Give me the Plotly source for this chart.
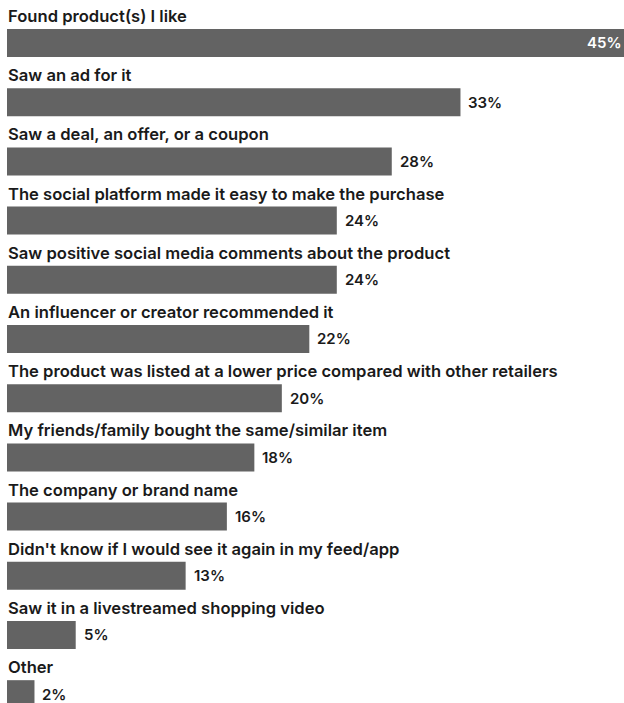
import plotly.graph_objects as go

categories = [
    "Found product(s) I like",
    "Saw an ad for it",
    "Saw a deal, an offer, or a coupon",
    "The social platform made it easy to make the purchase",
    "Saw positive social media comments about the product",
    "An influencer or creator recommended it",
    "The product was listed at a lower price compared with other retailers",
    "My friends/family bought the same/similar item",
    "The company or brand name",
    "Didn't know if I would see it again in my feed/app",
    "Saw it in a livestreamed shopping video",
    "Other",
]
values = [45, 33, 28, 24, 24, 22, 20, 18, 16, 13, 5, 2]
value_labels = [f"{v}%" for v in values]

idx = list(range(len(categories)))
BAR_COLOR = "#636363"
TEXT_COLOR = "#1a1a1a"
FONT = "Inter"

fig = go.Figure()
fig.add_trace(go.Bar(
    x=values, y=idx, orientation="h",
    marker=dict(color=BAR_COLOR, line=dict(width=0)),
    width=0.473, hoverinfo="skip",
))

annotations = []
for i, (c, v, t) in enumerate(zip(categories, values, value_labels)):
    annotations.append(dict(
        x=0, y=i, xref="x", yref="y", text=c, showarrow=False,
        xanchor="left", yanchor="middle", yshift=27, xshift=-1,
        font=dict(family=FONT, size=16.6, color=TEXT_COLOR, weight=600),
    ))
    if i == 0:
        annotations.append(dict(
            x=1, y=i, xref="paper", yref="y", text=t, showarrow=False,
            xanchor="right", yanchor="middle", xshift=0,
            font=dict(family=FONT, size=15, color="#ffffff", weight=600),
        ))
    else:
        annotations.append(dict(
            x=v, y=i, xref="x", yref="y", text=t, showarrow=False,
            xanchor="left", yanchor="middle", xshift=6,
            font=dict(family=FONT, size=15, color=TEXT_COLOR, weight=600),
        ))

fig.update_layout(
    width=624, height=703,
    margin=dict(l=7, r=0, t=0, b=0),
    paper_bgcolor="white", plot_bgcolor="white",
    showlegend=False,
    xaxis=dict(range=[0, 44.9], visible=False, fixedrange=True),
    yaxis=dict(range=[11.149, -0.726], visible=False, fixedrange=True),
    annotations=annotations,
)
fig.write_html("out.html")
